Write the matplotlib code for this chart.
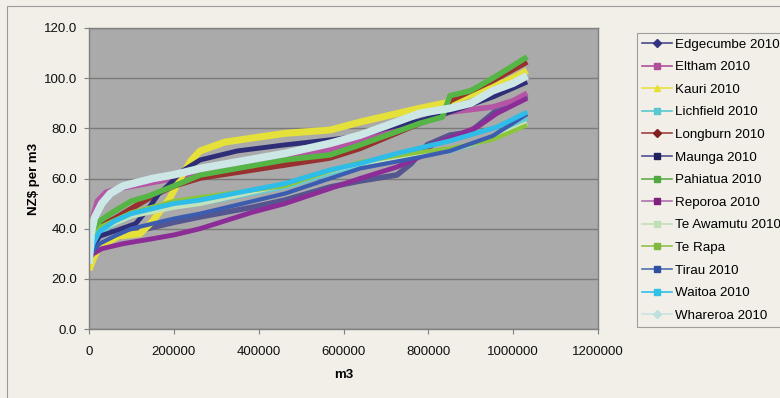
"""Water price duration curves for the 2010 dairy sites (NZ$ per m3 against cumulative m3)."""

import matplotlib

matplotlib.use("Agg")
import matplotlib.pyplot as plt
from matplotlib.lines import Line2D
from matplotlib.patches import Rectangle
from matplotlib.ticker import FormatStrFormatter, MultipleLocator

plt.rcParams["font.family"] = ["Liberation Sans", "DejaVu Sans"]

# ── Sorted price curves, one pair of lists per site (x in m3, y in NZ$/m3) ──
EDGECUMBE_X = [0, 10e3, 25e3, 60e3, 100e3, 200e3, 262e3, 384e3, 462e3, 568e3, 639e3,
               726e3, 760e3, 797e3, 851e3, 898e3, 962e3, 1033e3]
EDGECUMBE_Y = [26, 31, 33.5, 36, 38.5, 42.5, 44.7, 48.5, 51.4, 56.6, 59,
               61.4, 66, 73.4, 77.3, 78.5, 87.3, 93]

ELTHAM_X = [0, 8e3, 20e3, 40e3, 70e3, 120e3, 200e3, 262e3, 462e3, 568e3, 639e3,
            780e3, 851e3, 952e3, 1000e3, 1033e3]
ELTHAM_Y = [34, 44, 51, 54.5, 56, 57.5, 60, 62.6, 68.6, 71.4, 75.4,
            82.5, 86.5, 88.5, 91, 94]

KAURI_X = [0, 10e3, 25e3, 70e3, 120e3, 150e3, 190e3, 215e3, 240e3, 262e3, 320e3,
           400e3, 462e3, 568e3, 639e3, 780e3, 851e3, 952e3, 1000e3, 1033e3]
KAURI_Y = [23.5, 28, 33, 37, 38, 43, 52, 60, 67, 71, 74.5,
           76.5, 78, 79.3, 82.5, 88, 90.5, 96.5, 100, 103]

LICHFIELD_X = [0, 10e3, 25e3, 60e3, 100e3, 200e3, 262e3, 462e3, 568e3, 639e3,
               780e3, 851e3, 952e3, 1033e3]
LICHFIELD_Y = [27, 34, 38, 42, 45, 49, 50, 56.6, 62, 65, 69.5, 71, 76, 84]

LONGBURN_X = [0, 10e3, 25e3, 60e3, 100e3, 150e3, 200e3, 262e3, 462e3, 568e3, 639e3,
              780e3, 830e3, 851e3, 952e3, 1033e3]
LONGBURN_Y = [30, 37, 41, 44, 48, 53, 57, 60.2, 65.4, 68.2, 72,
              82, 85, 91, 99, 106.5]

MAUNGA_X = [0, 10e3, 25e3, 60e3, 110e3, 140e3, 165e3, 185e3, 220e3, 262e3, 350e3,
            462e3, 568e3, 639e3, 700e3, 780e3, 851e3, 952e3, 1033e3]
MAUNGA_Y = [28, 33, 37, 39, 42, 48, 54, 57, 63, 67.4, 71,
            73.4, 75.4, 77, 80, 83, 86.5, 92.5, 98.5]

PAHIATUA_X = [0, 10e3, 25e3, 60e3, 100e3, 140e3, 200e3, 262e3, 462e3, 568e3, 639e3,
              780e3, 833e3, 851e3, 900e3, 952e3, 1000e3, 1033e3]
PAHIATUA_Y = [30, 38, 43, 47, 51, 53, 57, 61.4, 67.4, 69.4, 73.4,
              82, 84.5, 93, 95, 100, 105, 108.5]

REPOROA_X = [0, 10e3, 30e3, 80e3, 150e3, 200e3, 262e3, 384e3, 462e3, 568e3, 639e3,
             726e3, 780e3, 810e3, 868e3, 915e3, 962e3, 1033e3]
REPOROA_Y = [28, 30, 32, 34, 36, 37.5, 40, 46.5, 50, 56, 60,
             64.6, 68.6, 73.5, 77.3, 80.5, 86, 92]

TE_AWAMUTU_X = [0, 10e3, 30e3, 100e3, 200e3, 262e3, 462e3, 568e3, 639e3,
                780e3, 851e3, 952e3, 1033e3]
TE_AWAMUTU_Y = [30, 36, 40, 45, 48.5, 50, 57.5, 63, 66, 70, 71.5, 76, 82]

TE_RAPA_X = [0, 10e3, 30e3, 100e3, 200e3, 262e3, 462e3, 568e3, 639e3,
             780e3, 851e3, 952e3, 1033e3]
TE_RAPA_Y = [30, 37, 41, 46.5, 51, 52.6, 57, 63, 66.6, 70.5, 72, 75.5, 81.3]

TIRAU_X = [0, 10e3, 25e3, 60e3, 100e3, 200e3, 262e3, 462e3, 568e3, 639e3,
           780e3, 851e3, 952e3, 1033e3]
TIRAU_Y = [28, 31, 34, 37, 40, 44, 46, 54, 60, 64, 68.5, 71, 77, 85.7]

WAITOA_X = [0, 10e3, 25e3, 60e3, 100e3, 200e3, 262e3, 462e3, 568e3, 639e3,
            726e3, 851e3, 962e3, 1033e3]
WAITOA_Y = [28, 34, 39, 43, 46, 50, 51.4, 58, 63.4, 66, 70, 75, 80.5, 86.5]

WHAREROA_X = [0, 5e3, 12e3, 30e3, 50e3, 80e3, 150e3, 200e3, 262e3, 462e3, 568e3,
              639e3, 700e3, 780e3, 851e3, 900e3, 952e3, 1000e3, 1033e3]
WHAREROA_Y = [26, 38, 44, 50, 54, 57, 60, 61.5, 64, 70, 74,
              77.3, 81, 86, 88, 90, 95, 98, 101]

LABELS = ["Edgecumbe 2010", "Eltham 2010", "Kauri 2010", "Lichfield 2010",
          "Longburn 2010", "Maunga 2010", "Pahiatua 2010", "Reporoa 2010",
          "Te Awamutu 2010", "Te Rapa", "Tirau 2010", "Waitoa 2010", "Whareroa 2010"]

SERIES = [
    (EDGECUMBE_X, EDGECUMBE_Y), (ELTHAM_X, ELTHAM_Y), (KAURI_X, KAURI_Y),
    (LICHFIELD_X, LICHFIELD_Y), (LONGBURN_X, LONGBURN_Y), (MAUNGA_X, MAUNGA_Y),
    (PAHIATUA_X, PAHIATUA_Y), (REPOROA_X, REPOROA_Y), (TE_AWAMUTU_X, TE_AWAMUTU_Y),
    (TE_RAPA_X, TE_RAPA_Y), (TIRAU_X, TIRAU_Y), (WAITOA_X, WAITOA_Y),
    (WHAREROA_X, WHAREROA_Y),
]

# band colour on the plot, legend line colour, legend marker, marker colour, band width
STYLES = [
    ("#55558f", "#4a4a8a", "D", "#333380", 4.0),
    ("#b455a5", "#b0509a", "s", "#b0509a", 4.0),
    ("#e6e03a", "#e8e040", "^", "#e6e030", 5.0),
    ("#66c8d2", "#5ac8d0", "s", "#5ac8d0", 3.5),
    ("#983030", "#a04040", "D", "#802020", 4.0),
    ("#2e2e78", "#505090", "s", "#202060", 3.5),
    ("#55b545", "#60b048", "s", "#50a840", 4.0),
    ("#8c2c96", "#b070b0", "s", "#802080", 3.5),
    ("#c4e2bc", "#c0e0b8", "s", "#c0e0b8", 3.5),
    ("#8cc43c", "#90c050", "s", "#80b840", 3.0),
    ("#3c5cb0", "#5070b0", "s", "#3050a0", 3.0),
    ("#2ebce8", "#30c0e8", "s", "#30c0e8", 3.5),
    ("#cde6e6", "#c8e4e4", "D", "#c0e0e0", 5.5),
]

BG = "#f1efe8"

fig = plt.figure(figsize=(7.8, 3.98), dpi=100, facecolor=BG)
ax = fig.add_axes([89 / 780, 1 - 329 / 398, 509 / 780, 301 / 398])
ax.set_facecolor("#aaaaaa")

for (xs, ys), (band, _, _, _, lw) in zip(SERIES, STYLES):
    ax.plot(xs, ys, color=band, lw=lw, solid_capstyle="butt", solid_joinstyle="round")

ax.set_xlim(0, 1200000)
ax.set_ylim(0, 120)
ax.xaxis.set_major_locator(MultipleLocator(200000))
ax.xaxis.set_major_formatter(FormatStrFormatter("%d"))
ax.yaxis.set_major_locator(MultipleLocator(20))
ax.yaxis.set_major_formatter(FormatStrFormatter("%.1f"))
ax.grid(axis="y", color="#7a7a7a", lw=1.0)
ax.set_axisbelow(True)
for side in ("top", "right", "left", "bottom"):
    ax.spines[side].set_color("#808080")
    ax.spines[side].set_linewidth(1.0)
ax.tick_params(axis="both", length=3.5, width=0.8, color="#808080",
               labelsize=9.5, labelcolor="#111111")
ax.tick_params(axis="x", pad=9)
ax.tick_params(axis="y", pad=5)

ax.set_xlabel("m3", fontsize=9.5, fontweight="bold", labelpad=8)
ax.set_ylabel("NZ\\$ per m3", fontsize=9.5, fontweight="bold", labelpad=3)

handles = [
    Line2D([], [], color=line, lw=1.2, marker=mk, markersize=4,
           markerfacecolor=mc, markeredgecolor=mc)
    for _, line, mk, mc, _ in STYLES
]
leg = fig.legend(handles, LABELS, loc="upper left", bbox_to_anchor=(637 / 780, 1 - 33 / 398),
                 fontsize=9.6, frameon=True, fancybox=False, borderpad=0.4,
                 labelspacing=0.77, handlelength=2.2, handletextpad=0.25,
                 borderaxespad=0)
leg.get_frame().set_facecolor(BG)
leg.get_frame().set_edgecolor("#8a8a8a")
leg.get_frame().set_linewidth(0.8)

# chart border, running off the right and bottom edges
fig.patches.append(Rectangle((7 / 780, -0.2), 2.0, 1.2 - 6 / 398, transform=fig.transFigure,
                             fill=False, edgecolor="#9a9a9a", lw=0.8))

fig.savefig("out.png", dpi=100, facecolor=BG)
